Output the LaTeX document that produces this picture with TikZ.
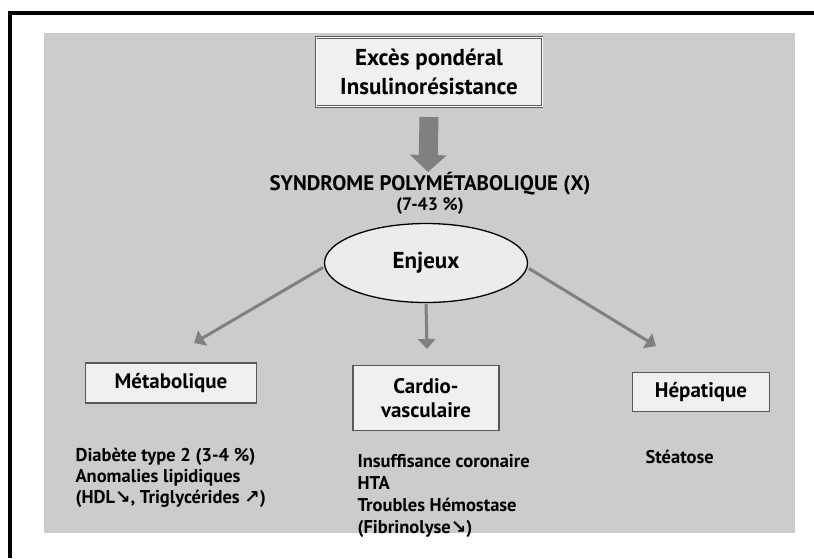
\documentclass[tikz,border=0pt]{standalone}
\usepackage{amsmath, amssymb}
\usepackage{fontspec}
\setmainfont{PT Sans}
\newfontfamily\arrowfont{DejaVu Sans}
\usepackage{tikz}
\usetikzlibrary{calc, shapes.geometric, positioning, shapes, arrows, arrows.meta}

\definecolor{paper}{gray}{0.80}
\definecolor{arrowgray}{gray}{0.50}
\newcommand{\down}{{\arrowfont\bfseries ↘}}
\newcommand{\up}{{\arrowfont\bfseries ↗}}
\tikzset{
  titlebox/.style={draw=gray!70!black, double=white, double distance=0.8pt, line width=0.9pt,
    fill=white!88!gray, align=center, font=\fontsize{23}{29}\selectfont\bfseries},
  domainbox/.style={draw=gray!70!black, line width=1.4pt, fill=white!88!gray, align=center,
    font=\fontsize{21}{24}\selectfont\bfseries},
  listtext/.style={align=left, anchor=north west, font=\fontsize{18.5}{21}\selectfont\bfseries},
  branch/.style={draw=arrowgray, line width=3pt, -{Triangle[length=10pt, width=17pt]}, shorten <=1pt}
}

\begin{document}
\begin{tikzpicture}[x=1pt, y=-1pt]
\useasboundingbox (0,0) rectangle (814,558);
% cadre et fond
\fill[paper] (44,33) rectangle (795,533);
\draw[line width=3.5pt] (10,558) -- (10,13) -- (814,13);
% noeuds
\node[titlebox, minimum width=226pt, minimum height=69pt] (cause) at (429,72)
  {Excès pondéral\\Insulinorésistance};
\node[font=\fontsize{21}{24}\selectfont\bfseries] (syndrome) at (430,184) {SYNDROME POLYMÉTABOLIQUE (X)};
\node[font=\fontsize{18}{20}\selectfont\bfseries] (freq) at (430,206) {(7-43 \%)};
\node[ellipse, draw, line width=1.3pt, fill=white!85!gray, minimum width=203pt, minimum height=79pt,
  font=\fontsize{23}{26}\selectfont\bfseries] (enjeux) at (426,263) {Enjeux};
\node[domainbox, minimum width=171pt, minimum height=40pt] (metab) at (171,383) {Métabolique};
\node[domainbox, minimum width=146pt, minimum height=65pt] (cardio) at (426,398) {Cardio-\\vasculaire};
\node[domainbox, minimum width=137pt, minimum height=39pt] (hepat) at (701,392) {Hépatique};
\node[listtext] (metablist) at (72,445)
  {Diabète type 2 (3-4 \%)\\Anomalies lipidiques\\(HDL\down, Triglycérides \up)};
\node[listtext, font=\fontsize{18.5}{22}\selectfont\bfseries] (cardiolist) at (354,451)
  {Insuffisance coronaire\\HTA\\Troubles Hémostase\\(Fibrinolyse\down)};
\node[listtext] (hepatlist) at (642,447) {Stéatose};
% fleches
\coordinate (metabtip) at (194,343);
\coordinate (cardiotip) at (427,349);
\coordinate (hepattip) at (656,346);
\draw[draw=arrowgray, line width=19pt, -{Triangle[length=17pt, width=36pt]}] (cause.south) ++(0,10) -- (428,172);
\draw[branch] (enjeux.west) ++(0,4) -- (metabtip);
\draw[branch] (enjeux.south) -- (cardiotip);
\draw[branch] (enjeux.east) ++(0,5) -- (hepattip);
\end{tikzpicture}
\end{document}
